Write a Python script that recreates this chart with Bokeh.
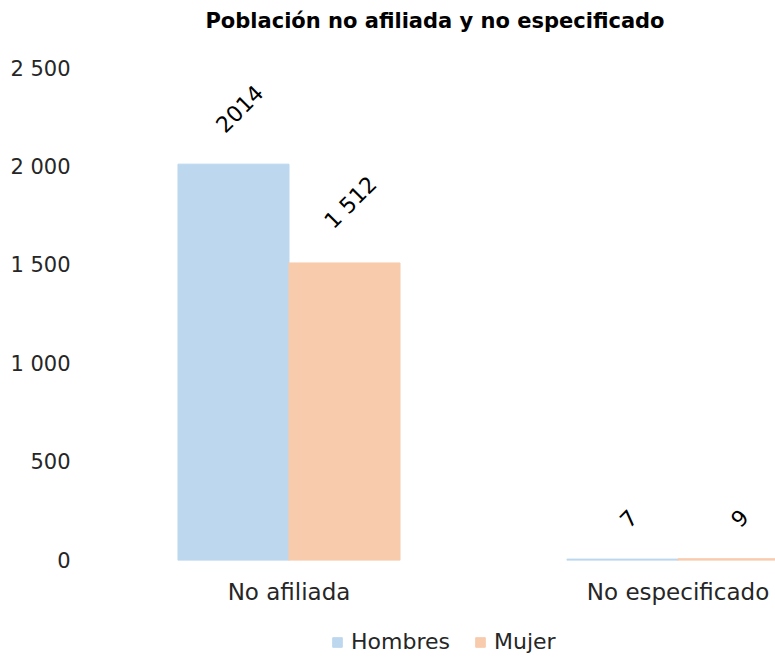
import numpy as np
from bokeh.plotting import figure
from bokeh.layouts import column
from bokeh.models import ColumnDataSource, Range1d, FixedTicker, Legend, LegendItem
from bokeh.transform import dodge
from bokeh.core.properties import value
from bokeh.embed import file_html
from bokeh.resources import INLINE

# ---- data ----
categories = ["No afiliada", "No especificado"]
hombres = [2014, 7]
mujer = [1512, 9]
hombres_labels = ["2014", "7"]
mujer_labels = ["1 512", "9"]
y_ticks = [0, 500, 1000, 1500, 2000, 2500]
y_tick_labels = ["0", "500", "1 000", "1 500", "2 000", "2 500"]
title_text = "Población no afiliada y no especificado"
series_names = ["Hombres", "Mujer"]
colors = ["#BDD7EE", "#F8CBAD"]

idx = list(range(len(categories)))
BW = 0.2854
FONT = "DejaVu Sans"


def label_offsets(labels, char_w=14.0, h=16.0, gap=30.0):
    return [-(gap + (len(s) * char_w / 2 + h / 2) * 0.7071) for s in labels]


def strip(height):
    f = figure(width=775, height=height, output_backend="svg", toolbar_location=None,
               x_range=Range1d(0, 1), y_range=Range1d(0, 1),
               x_axis_location=None, y_axis_location=None,
               min_border_left=0, min_border_right=0, min_border_top=0, min_border_bottom=0)
    f.xgrid.grid_line_color = None
    f.ygrid.grid_line_color = None
    f.outline_line_color = None
    return f


# ---- title strip ----
top = strip(40)
top.title.text = title_text
top.title.text_font = FONT
top.title.text_font_style = "bold"
top.title.text_font_size = "21px"
top.title.text_color = "#000000"
top.title.align = "center"
top.title.offset = 10
top.title.standoff = 12

# ---- main chart ----
src_h = ColumnDataSource(dict(x=idx, y=hombres, lab=hombres_labels, yo=label_offsets(hombres_labels)))
src_m = ColumnDataSource(dict(x=idx, y=mujer, lab=mujer_labels, yo=label_offsets(mujer_labels)))

p = figure(width=775, height=580, output_backend="svg", toolbar_location=None,
           x_range=Range1d(-0.5, 1.2506), y_range=Range1d(0, 2500),
           min_border_left=94, min_border_right=0, min_border_top=28, min_border_bottom=60)

rh = p.vbar(x=dodge("x", -BW / 2), top="y", width=BW, source=src_h, fill_color=colors[0], line_color=colors[0])
rm = p.vbar(x=dodge("x", BW / 2), top="y", width=BW, source=src_m, fill_color=colors[1], line_color=colors[1])

for src, off in ((src_h, -BW / 2), (src_m, BW / 2)):
    p.text(x=dodge("x", off), y="y", text="lab", source=src, angle=np.pi / 4,
           x_offset=6, y_offset="yo", text_align="center", text_baseline="middle",
           text_font=value(FONT), text_font_size="22px", text_color="#000000")

p.xaxis.ticker = FixedTicker(ticks=idx)
p.xaxis.major_label_overrides = {i: c for i, c in zip(idx, categories)}
p.xaxis.major_label_text_font = FONT
p.xaxis.major_label_text_font_size = "23px"
p.xaxis.major_label_text_color = "#262626"
p.xaxis.major_label_standoff = 12
p.xaxis.axis_line_color = None
p.xaxis.major_tick_line_color = None
p.xaxis.minor_tick_line_color = None

p.yaxis.ticker = FixedTicker(ticks=y_ticks)
p.yaxis.major_label_overrides = {t: l for t, l in zip(y_ticks, y_tick_labels)}
p.yaxis.major_label_text_font = FONT
p.yaxis.major_label_text_font_size = "21px"
p.yaxis.major_label_text_color = "#262626"
p.yaxis.major_label_standoff = 18
p.yaxis.axis_line_color = None
p.yaxis.major_tick_line_color = None
p.yaxis.minor_tick_line_color = None

p.xgrid.grid_line_color = None
p.ygrid.grid_line_color = None
p.outline_line_color = None

# ---- legend strip ----
leg = strip(40)
dummy = dict(x=[-1], top=[0])
lh = leg.vbar(x="x", top="top", width=0.1, source=ColumnDataSource(dummy), fill_color=colors[0], line_color=colors[0])
lm = leg.vbar(x="x", top="top", width=0.1, source=ColumnDataSource(dummy), fill_color=colors[1], line_color=colors[1])
legend = Legend(items=[LegendItem(label=series_names[0], renderers=[lh]),
                       LegendItem(label=series_names[1], renderers=[lm])],
                orientation="horizontal", location=(237, 6),
                glyph_width=12, glyph_height=12, label_text_font=FONT,
                label_text_font_size="22px", label_text_color="#262626",
                border_line_color=None, background_fill_alpha=0, spacing=24,
                margin=0, padding=4, label_standoff=8)
leg.add_layout(legend)

open("out.html", "w").write(file_html(column(top, p, leg, spacing=0), INLINE))
